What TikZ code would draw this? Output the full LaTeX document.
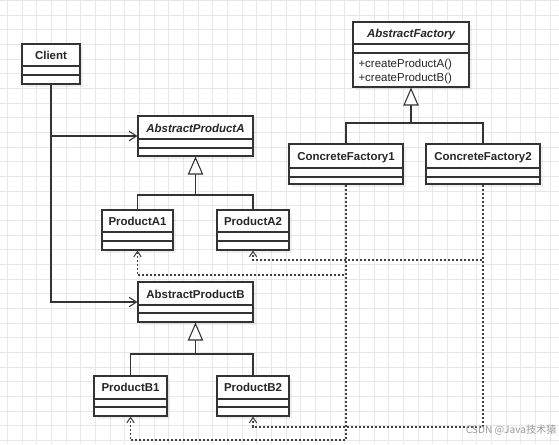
\documentclass[tikz,border=0pt]{standalone}
\usepackage{fontspec}
\setmainfont{Liberation Sans}
\newfontfamily\cjkfont{Noto Sans CJK SC}
\usetikzlibrary{arrows.meta,fit,shadows,calc}
\newcommand\umldiv[2]{\draw[divline] (#1.west |- 0,#2) -- (#1.east |- 0,#2);}
\begin{document}
\begin{tikzpicture}[x=0.75pt,y=-0.75pt,
  line width=0.8pt,
  gridl/.style={draw=black!9, line width=0.5pt},
  cls/.style={draw=black!80, fill=white, inner sep=0pt, line width=0.8pt,
    drop shadow={shadow xshift=2pt, shadow yshift=-2pt, opacity=0.12}},
  divline/.style={draw=black!80, line width=0.8pt},
  ttl/.style={font=\bfseries\fontsize{8.6}{10}\selectfont, inner sep=0pt, anchor=base, text=black!85},
  ittl/.style={font=\bfseries\itshape\fontsize{8.6}{10}\selectfont, inner sep=0pt, anchor=base, text=black!85},
  meth/.style={font=\fontsize{8.6}{10}\selectfont, inner sep=0pt, anchor=base west, text=black!85},
  conn/.style={draw=black!80, line width=0.8pt},
  assoc/.style={conn, -{Straight Barb[length=5.5pt,width=7pt]}},
  inh/.style={conn, -{Triangle[length=13.5pt,width=11.5pt,fill=white]}},
  dep/.style={draw=black!75, line width=1pt, dash pattern=on 1.5pt off 1.5pt,
    -{Straight Barb[length=4pt,width=5.5pt,line width=0.8pt]}},
  wm/.style={font=\cjkfont\fontsize{7.6}{9}\selectfont, text=black!40, inner sep=0pt, anchor=base east}
]
\useasboundingbox (0,0) rectangle (559,444);
% grid background
\foreach \i in {0,...,37} { \draw[gridl] ({7.3+\i*14.67},0) -- ({7.3+\i*14.67},444); }
\foreach \j in {0,...,30} { \draw[gridl] (0,{0.33+\j*14.67}) -- (559,{0.33+\j*14.67}); }

% classes
\node[cls, fit={(22,44) (80,84)}] (client) {};
\umldiv{client}{66}\umldiv{client}{75}
\node[ttl] (client-t) at (51,59) {Client};

\node[cls, fit={(138,116) (253,156)}] (apa) {};
\umldiv{apa}{139}\umldiv{apa}{148}
\node[ittl] (apa-t) at (195.5,132) {AbstractProductA};

\node[cls, fit={(102,210) (173,250)}] (pa1) {};
\umldiv{pa1}{232}\umldiv{pa1}{241}
\node[ttl] (pa1-t) at (137.5,225) {ProductA1};

\node[cls, fit={(217,210) (289,250)}] (pa2) {};
\umldiv{pa2}{232}\umldiv{pa2}{241}
\node[ttl] (pa2-t) at (253,225) {ProductA2};

\node[cls, fit={(138,282) (253,322)}] (apb) {};
\umldiv{apb}{305}\umldiv{apb}{313}
\node[ttl] (apb-t) at (195.5,298) {AbstractProductB};

\node[cls, fit={(94,376) (167,416)}] (pb1) {};
\umldiv{pb1}{399}\umldiv{pb1}{407}
\node[ttl] (pb1-t) at (130.5,391) {ProductB1};

\node[cls, fit={(217,376) (289,416)}] (pb2) {};
\umldiv{pb2}{399}\umldiv{pb2}{407}
\node[ttl] (pb2-t) at (253,391) {ProductB2};

\node[cls, fit={(353,22) (469,87)}] (af) {};
\umldiv{af}{44}\umldiv{af}{53}
\node[ittl] (af-t) at (411,37) {AbstractFactory};
\node[meth] (af-m1) at (358,67) {+createProductA()};
\node[meth] (af-m2) at (358,81) {+createProductB()};

\node[cls, fit={(289,144) (403,184)}] (cf1) {};
\umldiv{cf1}{168}\umldiv{cf1}{177}
\node[ttl] (cf1-t) at (346,160) {ConcreteFactory1};

\node[cls, fit={(426,144) (540,184)}] (cf2) {};
\umldiv{cf2}{168}\umldiv{cf2}{177}
\node[ttl] (cf2-t) at (483,160) {ConcreteFactory2};

% associations
\draw[assoc] (client.south) |- (apa.west);
\draw[assoc] (client.south) |- (apb.west);

% inheritance
\coordinate (ja) at (195.5,195);
\draw[conn] (pa1.north) |- (ja) -| (pa2.north);
\draw[inh] (ja) -- (apa.south);
\coordinate (jb) at (195.5,354);
\draw[conn] (pb1.north) |- (jb) -| (pb2.north);
\draw[inh] (jb) -- (apb.south);
\coordinate (jf) at (411,123);
\draw[conn] (cf1.north) |- (jf) -| (cf2.north);
\draw[inh] (jf) -- (af.south);

% dependencies
\coordinate (ya1) at (0,275);
\coordinate (ya2) at (0,260);
\coordinate (yb1) at (0,440);
\coordinate (yb2) at (0,427);
\draw[dep] (cf1.south) -- (cf1.south |- ya1) -| (pa1.south);
\draw[dep] (cf2.south) -- (cf2.south |- ya2) -| (pa2.south);
\draw[dep] (cf1.south) -- (cf1.south |- yb1) -| (pb1.south);
\draw[dep] (cf2.south) -- (cf2.south |- yb2) -| (pb2.south);

% watermark
\node[wm] (wm) at (557,433) {CSDN @Java技术猿};
\end{tikzpicture}
\end{document}
